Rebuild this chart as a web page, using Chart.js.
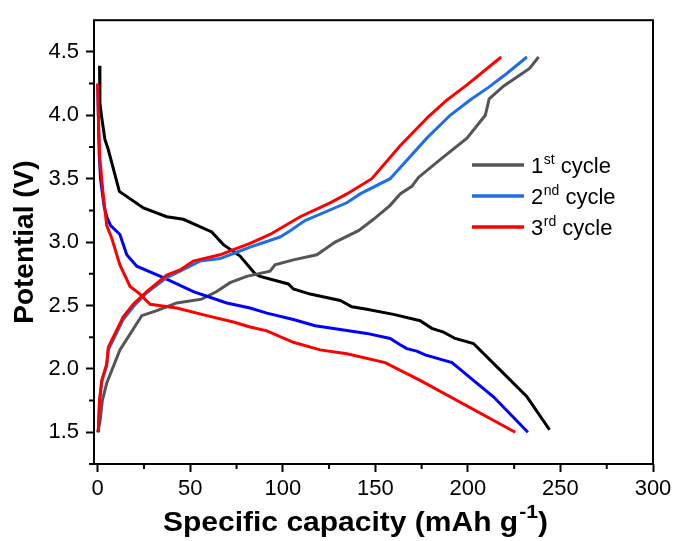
<!DOCTYPE html>
<html>
<head>
<meta charset="utf-8">
<script src="https://cdn.jsdelivr.net/npm/chart.js@4.4.1/dist/chart.umd.min.js"></script>
<style>
html, body { margin: 0; padding: 0; background: #fff; }
canvas { display: block; }
</style>
</head>
<body>
<canvas id="chart" width="676" height="541"></canvas>
<script>
// [capacity (mAh/g), potential (V)]
var discharge1 = [[1,4.39],[1.2,4.1],[2,4.0],[3.9,3.81],[5.7,3.73],[11.7,3.4],[24.7,3.27],[37.3,3.2],[46.3,3.18],[61.6,3.08],[67.9,2.98],[76.9,2.89],[85,2.75],[87.7,2.73],[103,2.67],[105.7,2.63],[114.8,2.59],[131,2.54],[137.3,2.49],[145.4,2.47],[159.8,2.43],[174.2,2.38],[180.5,2.32],[186.8,2.29],[193.1,2.24],[203,2.2],[217.5,1.99],[231.9,1.78],[244.1,1.52]];
var charge1 = [[0,1.5],[1.2,1.58],[2.5,1.75],[4.9,1.89],[12,2.15],[23.8,2.42],[31.9,2.46],[42.7,2.52],[56.2,2.55],[64.3,2.61],[71.5,2.68],[80.5,2.73],[93.1,2.77],[95.8,2.82],[105.7,2.86],[118.4,2.9],[128.3,3.0],[140.9,3.09],[149,3.18],[158,3.29],[163.4,3.38],[169.7,3.44],[173.3,3.51],[185,3.65],[199.5,3.82],[209.4,4.0],[211.5,4.13],[219.2,4.23],[228.3,4.32],[233.3,4.37],[238.2,4.46]];
var discharge2 = [[0,4.25],[0.8,3.7],[1.5,3.5],[3.5,3.28],[4.9,3.2],[7,3.13],[12,3.06],[15.7,2.9],[21.1,2.81],[35.5,2.72],[51.7,2.61],[69.7,2.52],[82.3,2.48],[91.4,2.44],[105.7,2.39],[117.5,2.34],[131,2.31],[145.4,2.28],[158,2.24],[163.4,2.19],[167,2.16],[172.4,2.14],[176.9,2.11],[191.4,2.05],[203,1.91],[213.8,1.78],[232.4,1.5]];
var charge2 = [[0.3,1.5],[1,1.75],[2.2,1.9],[4.9,2.03],[5.7,2.15],[8.4,2.23],[13.8,2.39],[19.2,2.49],[26.5,2.6],[37.3,2.72],[44.5,2.77],[49.9,2.81],[55.3,2.85],[66.1,2.87],[73.3,2.91],[82.3,2.96],[98.5,3.04],[104,3.09],[112,3.17],[134.6,3.31],[141.8,3.38],[158,3.5],[177.8,3.82],[190.4,4.0],[201.2,4.12],[211.1,4.22],[221,4.33],[231.9,4.46]];
var discharge3 = [[0,4.25],[0.5,3.9],[1.2,3.65],[3,3.37],[4.9,3.13],[7.6,3.03],[12,2.82],[17.5,2.65],[22.9,2.59],[28.3,2.51],[42.7,2.48],[58.9,2.42],[73.3,2.37],[82.3,2.33],[91.4,2.3],[105.7,2.21],[120.2,2.15],[134.6,2.12],[155.3,2.05],[174.2,1.91],[225.6,1.5]];
var charge3 = [[0.3,1.5],[1,1.75],[2.2,1.91],[4.9,2.04],[5.7,2.17],[8.4,2.25],[13.8,2.41],[19.2,2.51],[26.5,2.61],[37.3,2.74],[44.5,2.78],[51.7,2.85],[57.1,2.87],[66.1,2.9],[73.3,2.94],[82.3,2.99],[93.1,3.06],[109.4,3.2],[125.6,3.31],[134.6,3.38],[148.1,3.5],[163.4,3.76],[178.7,3.99],[188.6,4.12],[199.5,4.24],[218,4.46]];

var xTicks = [0, 50, 100, 150, 200, 250, 300];
var xMinor = [25, 75, 125, 175, 225, 275];
var yTicks = [1.5, 2.0, 2.5, 3.0, 3.5, 4.0, 4.5];
var yMinor = [1.25, 1.75, 2.25, 2.75, 3.25, 3.75, 4.25];

var legendLabels = [['1', 'st', ' cycle'], ['2', 'nd', ' cycle'], ['3', 'rd', ' cycle']];
var legendColors = ['#555555', '#1f6fe3', '#ff0000'];

var FONT = "'Liberation Sans', Arial, sans-serif";

function toXY(arr) {
	return arr.map(p => ({x: p[0], y: p[1]}));
}

function line(label, arr, color) {
	return {
		label: label,
		data: toXY(arr),
		borderColor: color,
		backgroundColor: color,
		borderWidth: 3,
		pointRadius: 0,
		tension: 0,
		fill: false
	};
}

const chartAreaBorder = {
	id: 'chartAreaBorder',
	afterDraw(chart) {
		const {ctx, chartArea: {left, top, width, height}} = chart;
		ctx.save();
		ctx.strokeStyle = '#000';
		ctx.lineWidth = 2;
		ctx.strokeRect(left, top, width, height);
		ctx.restore();
	}
};

const minorTicks = {
	id: 'minorTicks',
	afterDraw(chart) {
		const {ctx, chartArea, scales: {x, y}} = chart;
		ctx.save();
		ctx.strokeStyle = '#000';
		ctx.lineWidth = 2;
		ctx.beginPath();
		xMinor.forEach(v => {
			var px = x.getPixelForValue(v);
			ctx.moveTo(px, chartArea.bottom);
			ctx.lineTo(px, chartArea.bottom + 5);
		});
		yMinor.forEach(v => {
			var py = y.getPixelForValue(v);
			ctx.moveTo(chartArea.left, py);
			ctx.lineTo(chartArea.left - 5, py);
		});
		ctx.stroke();
		ctx.restore();
	}
};

const cycleLegend = {
	id: 'cycleLegend',
	afterDraw(chart) {
		const ctx = chart.ctx;
		ctx.save();
		for (var i = 0; i < legendLabels.length; i++) {
			var ly = 165 + i * 31;
			ctx.strokeStyle = legendColors[i];
			ctx.lineWidth = 3.5;
			ctx.beginPath();
			ctx.moveTo(472, ly);
			ctx.lineTo(524, ly);
			ctx.stroke();

			var parts = legendLabels[i], tx = 531, by = ly + 8;
			ctx.fillStyle = '#000';
			ctx.textBaseline = 'alphabetic';
			ctx.font = '22px ' + FONT;
			ctx.fillText(parts[0], tx, by);
			tx += ctx.measureText(parts[0]).width + 0.5;
			ctx.font = '14px ' + FONT;
			ctx.fillText(parts[1], tx, by - 9);
			tx += ctx.measureText(parts[1]).width;
			ctx.font = '22px ' + FONT;
			ctx.fillText(parts[2], tx, by);
		}
		ctx.restore();
	}
};

const xAxisTitle = {
	id: 'xAxisTitle',
	afterDraw(chart) {
		const ctx = chart.ctx;
		var main = 'Specific capacity (mAh g', sup = '-1', close = ')';
		ctx.save();
		ctx.fillStyle = '#000';
		ctx.textBaseline = 'alphabetic';
		ctx.font = 'bold 27px ' + FONT;
		var wMain = ctx.measureText(main).width;
		var wClose = ctx.measureText(close).width;
		ctx.font = 'bold 19px ' + FONT;
		var wSup = ctx.measureText(sup).width;
		var sx = 385 / (wMain + wSup + wClose + 1);
		ctx.translate(163, 531);
		ctx.scale(sx, 1);
		ctx.font = 'bold 27px ' + FONT;
		ctx.fillText(main, 0, 0);
		ctx.font = 'bold 19px ' + FONT;
		ctx.fillText(sup, wMain + 1, -13);
		ctx.font = 'bold 27px ' + FONT;
		ctx.fillText(close, wMain + wSup + 1, 0);
		ctx.restore();
	}
};

var ctx = document.getElementById('chart').getContext('2d');

var chart = new Chart(ctx, {
	type: 'line',
	data: {
		datasets: [
			line('3rd cycle charge', charge3, '#ff0000'),
			line('3rd cycle discharge', discharge3, '#ff0000'),
			line('2nd cycle charge', charge2, '#1f6fe3'),
			line('2nd cycle discharge', discharge2, '#0000ff'),
			line('1st cycle charge', charge1, '#555555'),
			line('1st cycle discharge', discharge1, '#000000')
		]
	},
	options: {
		responsive: false,
		animation: false,
		layout: {
			padding: {left: 0, top: 16, right: 23, bottom: 0}
		},
		scales: {
			x: {
				type: 'linear',
				min: -2,
				max: 300,
				afterFit: function (s) { s.height = 77; },
				afterBuildTicks: function (s) { s.ticks = xTicks.map(v => ({value: v})); },
				border: {display: false},
				grid: {
					drawOnChartArea: false,
					drawTicks: true,
					tickLength: 8,
					tickWidth: 2,
					tickColor: '#000'
				},
				ticks: {
					color: '#000',
					padding: 4,
					maxRotation: 0,
					font: {family: FONT, size: 22},
					callback: v => String(v)
				}
			},
			y: {
				type: 'linear',
				min: 1.25,
				max: 4.75,
				afterFit: function (s) { s.width = 94; },
				afterBuildTicks: function (s) { s.ticks = yTicks.map(v => ({value: v})); },
				border: {display: false},
				grid: {
					drawOnChartArea: false,
					drawTicks: true,
					tickLength: 8,
					tickWidth: 2,
					tickColor: '#000'
				},
				ticks: {
					color: '#000',
					padding: 7,
					font: {family: FONT, size: 22},
					callback: v => v.toFixed(1)
				},
				title: {
					display: true,
					text: 'Potential (V)',
					color: '#000',
					font: {family: FONT, size: 28, weight: 'bold'},
					padding: {top: 8, bottom: 0}
				}
			}
		},
		plugins: {
			legend: {display: false},
			tooltip: {enabled: false}
		}
	},
	plugins: [chartAreaBorder, minorTicks, cycleLegend, xAxisTitle]
});
</script>
</body>
</html>
